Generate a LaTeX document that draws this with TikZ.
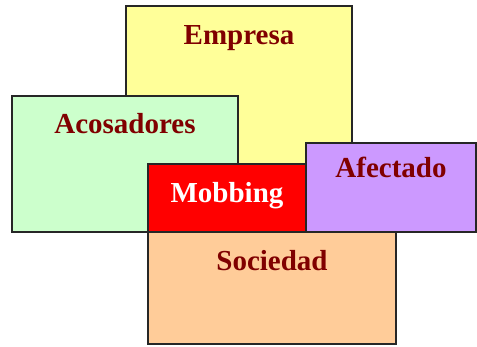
\documentclass[tikz,border=0pt]{standalone}
\usepackage{fontspec}
\setmainfont{Liberation Serif}
\usepackage{tikz}
\definecolor{empresacol}{HTML}{FFFF99}
\definecolor{acosacol}{HTML}{CCFFCC}
\definecolor{afectcol}{HTML}{CC99FF}
\definecolor{sociecol}{HTML}{FFCC99}
\definecolor{labelcol}{HTML}{800000}
\begin{document}
\begin{tikzpicture}[x=1pt,y=-1pt]
    \tikzstyle{every node}+=[inner sep=0pt, anchor=base, font=\fontsize{29}{29}\selectfont\bfseries, text=labelcol]
    \tikzstyle{box}=[draw=black!85, line width=1.3pt]
    \useasboundingbox (0,0) rectangle (477,347);
    \draw [box, fill=empresacol] (126,6) rectangle (352,200);
    \draw (239,45) node (empresa) {Empresa};
    \draw [box, fill=acosacol] (12,96) rectangle (238,232);
    \draw (125,134) node (acosadores) {Acosadores};
    \draw [box, fill=afectcol] (306,143) rectangle (476,232);
    \draw (391,178) node (afectado) {Afectado};
    \draw [box, fill=red] (148,164) rectangle (306,232);
    \draw (227,203) node [text=white] (mobbing) {Mobbing};
    \draw [box, fill=sociecol] (148,232) rectangle (396,344);
    \draw (272,271) node (sociedad) {Sociedad};
\end{tikzpicture}
\end{document}
